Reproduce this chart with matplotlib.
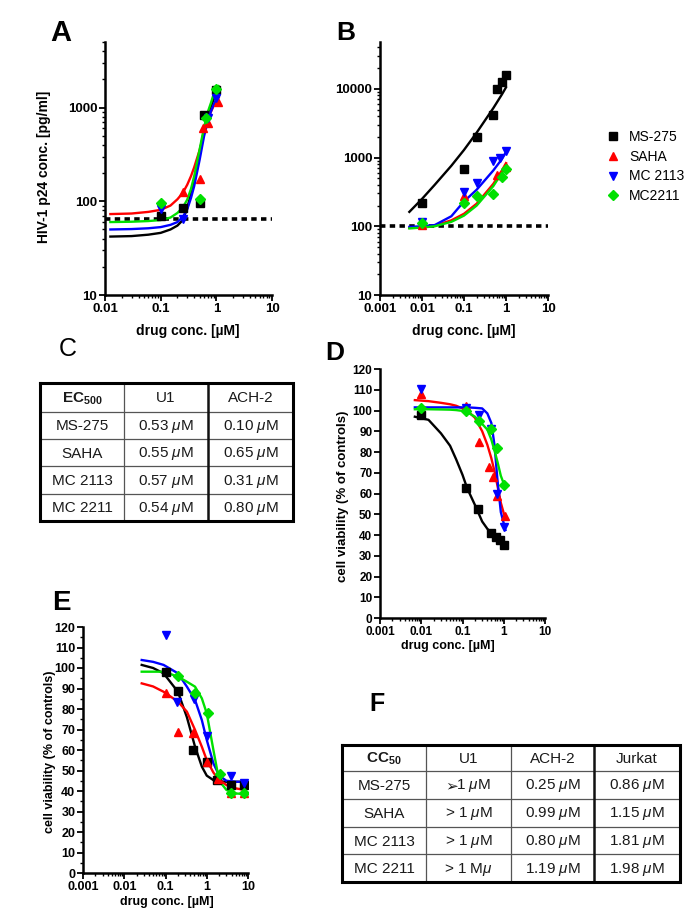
import numpy as np
import matplotlib
matplotlib.use("Agg")
import matplotlib.pyplot as plt
from matplotlib.ticker import LogLocator, NullFormatter, MultipleLocator
from matplotlib.lines import Line2D

plt.rcParams['font.family'] = ['Liberation Sans', 'DejaVu Sans']
plt.rcParams['mathtext.fontset'] = 'custom'
plt.rcParams['mathtext.rm'] = 'Liberation Sans'
plt.rcParams['mathtext.it'] = 'Liberation Sans:italic'
plt.rcParams['mathtext.bf'] = 'Liberation Sans:bold'

W, H = 685, 913

# ---- data ----
drugs = ['MS-275', 'SAHA', 'MC 2113', 'MC2211']
colors = ['black', '#ff0000', '#0000ff', '#00e000']
markers = ['s', '^', 'v', 'D']
msizes = [5.5, 5.5, 5.5, 5]

# A: HIV-1 p24 (U1)
a_x = [[0.1, 0.25, 0.5, 0.6, 1.0],
       [0.25, 0.5, 0.58, 0.7, 1.05],
       [0.1, 0.25, 0.7, 1.0],
       [0.1, 0.5, 0.65, 1.0]]
a_y = [[69, 85, 97, 840, 1550],
       [126, 174, 600, 690, 1150],
       [83, 64, 780, 1270],
       [96, 107, 780, 1590]]
a_fit_x = [0.0125, 0.03, 0.06, 0.1, 0.15, 0.2, 0.25, 0.3, 0.35, 0.4, 0.5, 0.6, 0.7, 0.8, 0.9, 1.0, 1.1]
a_fit_y = [[42, 42.5, 44, 46, 50, 55, 63, 85, 120, 165, 330, 570, 800, 1020, 1230, 1420, 1570],
           [73, 74, 77, 81, 90, 105, 123, 150, 185, 230, 350, 530, 730, 900, 1050, 1170, 1280],
           [50, 50.5, 51.5, 53, 56, 60, 68, 82, 108, 145, 275, 490, 710, 910, 1080, 1230, 1320],
           [60, 60.5, 61.5, 63, 67, 75, 86, 104, 135, 185, 355, 610, 890, 1120, 1400, 1590, 1690]]
a_base = 65

# B: HIV-1 p24 (ACH-2)
b_x = [[0.01, 0.1, 0.2, 0.5, 0.6, 0.8, 1.0],
       [0.01, 0.1, 0.6, 1.0],
       [0.01, 0.1, 0.2, 0.5, 0.72, 1.0],
       [0.01, 0.1, 0.2, 0.5, 0.8, 1.0]]
b_y = [[215, 680, 2000, 4100, 9800, 12500, 15800],
       [105, 280, 550, 720],
       [115, 315, 430, 890, 990, 1230],
       [113, 215, 280, 295, 520, 690]]
b_fit_x = [0.005, 0.01, 0.02, 0.05, 0.1, 0.2, 0.5, 0.8, 1.0]
b_fit_y = [[162, 250, 400, 760, 1290, 2300, 5250, 8300, 10500],
           [95, 98, 102, 122, 152, 213, 415, 650, 830],
           [98, 100, 104, 140, 230, 340, 650, 950, 1200],
           [93, 96, 100, 116, 143, 200, 385, 600, 740]]
b_base = 100

# D: viability ACH-2
d_x = [[0.01, 0.12, 0.24, 0.5, 0.65, 0.8, 1.0],
       [0.01, 0.12, 0.25, 0.45, 0.55, 0.7, 1.1],
       [0.01, 0.12, 0.25, 0.5, 0.7, 1.0],
       [0.01, 0.12, 0.25, 0.5, 0.7, 1.0]]
d_y = [[98, 62.5, 52.5, 41, 39, 37.5, 35],
       [108, 102, 85, 73, 68, 59, 49],
       [110.5, 101, 98, 91, 60, 44],
       [101, 100, 95, 91, 82, 64]]
d_fit_x = [0.007, 0.015, 0.03, 0.05, 0.07, 0.1, 0.13, 0.2, 0.3, 0.4, 0.5, 0.6, 0.7, 0.85, 1.0, 1.1]
d_fit_y = [[97, 95.5, 89, 83, 76.5, 69, 62.5, 54.5, 46.5, 43, 41, 39.5, 38.5, 37, 36, 35.5],
           [105, 104.5, 103.7, 103, 102.3, 101, 100, 96.5, 90, 83.5, 77, 70.5, 64, 55.5, 50.5, 48],
           [101.5, 101.5, 101.5, 101.5, 101.5, 101.5, 101.5, 101.3, 101, 98.6, 94, 83, 67, 51, 45.6, 42.4],
           [100.6, 100.6, 100.5, 100.4, 100.2, 99.8, 99.2, 97, 93.5, 90.8, 86, 80.5, 75.5, 68.5, 64.8, 63.3]]

# E: viability Jurkat
e_x = [[0.1, 0.2, 0.46, 1.0, 1.8, 3.8, 8.0],
       [0.1, 0.2, 0.47, 1.0, 1.9, 3.8, 8.0],
       [0.1, 0.19, 0.5, 1.0, 3.8, 8.0],
       [0.2, 0.52, 1.1, 2.1, 3.8, 8.0]]
e_y = [[98, 89, 60, 54, 45.5, 43, 43],
       [88, 69, 68.5, 54, 46, 39, 39],
       [116, 83.5, 85, 67, 47.5, 44],
       [96, 88, 78, 48.5, 39, 39]]
e_fit_x = [0.0265, 0.05, 0.09, 0.2, 0.33, 0.52, 0.76, 1.0, 1.45, 2.0, 3.0, 5.0, 8.5]
e_fit_y = [[101.5, 100, 97.4, 88.4, 76, 61.6, 51.9, 47.5, 45.3, 44.7, 44.5, 44.5, 44.5],
           [92.5, 91, 88.4, 83.6, 78.7, 69.8, 61.6, 55.1, 49, 45.4, 42.9, 41.3, 40.5],
           [103.9, 103, 101.5, 97.4, 90.9, 84.4, 74.6, 64.9, 53.5, 47.5, 45, 44.5, 44.5],
           [98.2, 98.2, 98.2, 95.8, 93.3, 90.9, 85.2, 77.9, 60, 45, 40.5, 38.8, 38.5]]

# C / F tables
c_rows = ['MS-275', 'SAHA', 'MC 2113', 'MC 2211']
c_u1 = ['0.53', '0.55', '0.57', '0.54']
c_ach2 = ['0.10', '0.65', '0.31', '0.80']
f_u1 = ['1', '> 1', '> 1', '> 1']
f_ach2 = ['0.25', '0.99', '0.80', '1.19']
f_jurkat = ['0.86', '1.15', '1.81', '1.98']

log_ticks_a = [0.01, 0.1, 1, 10]
log_labels_a = ['0.01', '0.1', '1', '10']
log_ticks_b = [0.001, 0.01, 0.1, 1, 10]
log_labels_b = ['0.001', '0.01', '0.1', '1', '10']
via_ticks = np.arange(0, 121, 10)


def px(x, y):
    return x / W, 1 - y / H


def box(l, t, r, b):
    return [l / W, 1 - b / H, (r - l) / W, (b - t) / H]


def style(ax, fs):
    for s in ['top', 'right']:
        ax.spines[s].set_visible(False)
    for s in ['left', 'bottom']:
        ax.spines[s].set_linewidth(1.8)
    ax.tick_params(which='major', direction='out', length=4, width=1.3, labelsize=fs, pad=1.5)
    ax.tick_params(which='minor', direction='out', length=2.5, width=1.0)
    for lab in ax.get_xticklabels() + ax.get_yticklabels():
        lab.set_fontweight('bold')


def draw(ax, xs, ys, fx, fys):
    for i in range(4):
        ax.plot(fx, fys[i], color=colors[i], lw=1.7, zorder=2)
        ax.plot(xs[i], ys[i], linestyle='none', marker=markers[i], ms=msizes[i],
                color=colors[i], zorder=3)


def logx(ax, ticks, labels, lo, hi):
    ax.set_xscale('log')
    ax.set_xlim(lo, hi)
    ax.xaxis.set_minor_locator(LogLocator(base=10, subs=np.arange(2, 10)))
    ax.xaxis.set_minor_formatter(NullFormatter())
    ax.set_xticks(ticks)
    ax.set_xticklabels(labels)


fig = plt.figure(figsize=(W / 100, H / 100), dpi=100)

# A
axA = fig.add_axes(box(105, 42, 272, 295))
draw(axA, a_x, a_y, a_fit_x, a_fit_y)
axA.plot([0.01, 10], [a_base, a_base], color='black', lw=2.6, linestyle=(0, (1.5, 1.2)), zorder=1)
logx(axA, log_ticks_a, log_labels_a, 0.01, 10)
axA.set_yscale('log')
axA.set_ylim(10, 5000)
axA.yaxis.set_minor_locator(LogLocator(base=10, subs=np.arange(2, 10)))
axA.yaxis.set_minor_formatter(NullFormatter())
axA.set_yticks([10, 100, 1000])
axA.set_yticklabels(['10', '100', '1000'])
style(axA, 9.5)

# B
axB = fig.add_axes(box(380, 42, 548, 295))
draw(axB, b_x, b_y, b_fit_x, b_fit_y)
axB.plot([0.001, 10], [b_base, b_base], color='black', lw=2.6, linestyle=(0, (1.5, 1.2)), zorder=1)
logx(axB, log_ticks_b, log_labels_b, 0.001, 10)
axB.set_yscale('log')
axB.set_ylim(10, 48000)
axB.yaxis.set_minor_locator(LogLocator(base=10, subs=np.arange(2, 10)))
axB.yaxis.set_minor_formatter(NullFormatter())
axB.set_yticks([10, 100, 1000, 10000])
axB.set_yticklabels(['10', '100', '1000', '10000'])
style(axB, 9.5)

handles = [Line2D([], [], linestyle='none', marker=markers[i], ms=msizes[i], color=colors[i])
           for i in range(4)]
fig.legend(handles, drugs, loc='upper left', bbox_to_anchor=px(596, 120), frameon=False,
           fontsize=10, handlelength=1.0, handletextpad=0.7, labelspacing=0.42, borderpad=0.2)

# D
axD = fig.add_axes(box(380, 369, 545, 618))
draw(axD, d_x, d_y, d_fit_x, d_fit_y)
logx(axD, log_ticks_b, log_labels_b, 0.001, 10)
axD.set_ylim(0, 120)
axD.set_yticks(via_ticks)
style(axD, 8.5)

# E
axE = fig.add_axes(box(83, 627, 248, 873))
draw(axE, e_x, e_y, e_fit_x, e_fit_y)
logx(axE, log_ticks_b, log_labels_b, 0.001, 10)
axE.set_ylim(0, 120)
axE.set_yticks(via_ticks)
axE.yaxis.set_minor_locator(MultipleLocator(5))
style(axE, 9)

# axis labels
fig.text(*px(44, 167), 'HIV-1 p24 conc. [pg/ml]', rotation=90, ha='center', va='center',
         fontsize=10, fontweight='bold')
fig.text(*px(188, 331), 'drug conc. [\u00b5M]', ha='center', va='center', fontsize=10, fontweight='bold')
fig.text(*px(464, 331), 'drug conc. [\u00b5M]', ha='center', va='center', fontsize=10, fontweight='bold')
fig.text(*px(448, 646), 'drug conc. [\u00b5M]', ha='center', va='center', fontsize=9, fontweight='bold')
fig.text(*px(343, 496), 'cell viability (% of controls)', rotation=90, ha='center', va='center',
         fontsize=9.5, fontweight='bold')
fig.text(*px(167, 902), 'drug conc. [\u00b5M]', ha='center', va='center', fontsize=9, fontweight='bold')
fig.text(*px(50, 752), 'cell viability (% of controls)', rotation=90, ha='center', va='center',
         fontsize=9, fontweight='bold')

# panel letters
fig.text(*px(61, 33), 'A', ha='center', va='center', fontsize=21, fontweight='bold')
fig.text(*px(346, 33), 'B', ha='center', va='center', fontsize=19, fontweight='bold')
fig.text(*px(68, 349), 'C', ha='center', va='center', fontsize=18)
fig.text(*px(335, 353), 'D', ha='center', va='center', fontsize=19, fontweight='bold')
fig.text(*px(61, 603), 'E', ha='center', va='center', fontsize=20, fontweight='bold')
fig.text(*px(377, 704), 'F', ha='center', va='center', fontsize=18, fontweight='bold')

# tables
axT = fig.add_axes([0, 0, 1, 1], zorder=-1)
axT.set_xlim(0, W)
axT.set_ylim(H, 0)
axT.axis('off')


def table(cols, rows, thick_col, cells):
    l, r, t, b = cols[0], cols[-1], rows[0], rows[-1]
    for y in rows[1:-1]:
        axT.plot([l, r], [y, y], color='#555555', lw=0.9)
    for j, x in enumerate(cols[1:-1], start=1):
        if j == thick_col:
            axT.plot([x, x], [t, b], color='#111111', lw=1.8)
        else:
            axT.plot([x, x], [t, b], color='#555555', lw=0.9)
    axT.plot([l, r, r, l, l], [t, t, b, b, t], color='black', lw=2.2, solid_joinstyle='miter')
    for i in range(len(rows) - 1):
        for j in range(len(cols) - 1):
            txt = cells[i][j]
            if txt is None:
                continue
            cx = (cols[j] + cols[j + 1]) / 2
            cy = (rows[i] + rows[i + 1]) / 2
            w = 'bold' if i == 0 and j == 0 else 'normal'
            axT.text(cx, cy + 1, txt, ha='center', va='center', fontsize=11, color='#1a1a1a',
                     fontweight=w)


mu = ' $\\mu$M'
c_cells = [['EC$_{\\mathbf{500}}$', 'U1', 'ACH-2']]
for i in range(4):
    c_cells.append([c_rows[i], c_u1[i] + mu, c_ach2[i] + mu])
table([40, 124, 208, 293], [383, 412, 439, 466, 494, 521], 2, c_cells)

f_cells = [['CC$_{\\mathbf{50}}$', 'U1', 'ACH-2', 'Jurkat']]
for i in range(4):
    u1 = None if i == 0 else (f_u1[i] + (' M$\\mu$' if i == 3 else mu))
    f_cells.append([c_rows[i], u1, f_ach2[i] + mu, f_jurkat[i] + mu])
table([342, 426, 511, 594, 680], [745, 771, 799, 827, 854, 882], 3, f_cells)
axT.text(445, 786, '\u27a2', ha='left', va='center', fontsize=11, color='#1a1a1a',
         family=['DejaVu Sans'])
axT.text(456, 786, f_u1[0] + mu, ha='left', va='center', fontsize=11, color='#1a1a1a')

fig.savefig('out.png', dpi=100)
